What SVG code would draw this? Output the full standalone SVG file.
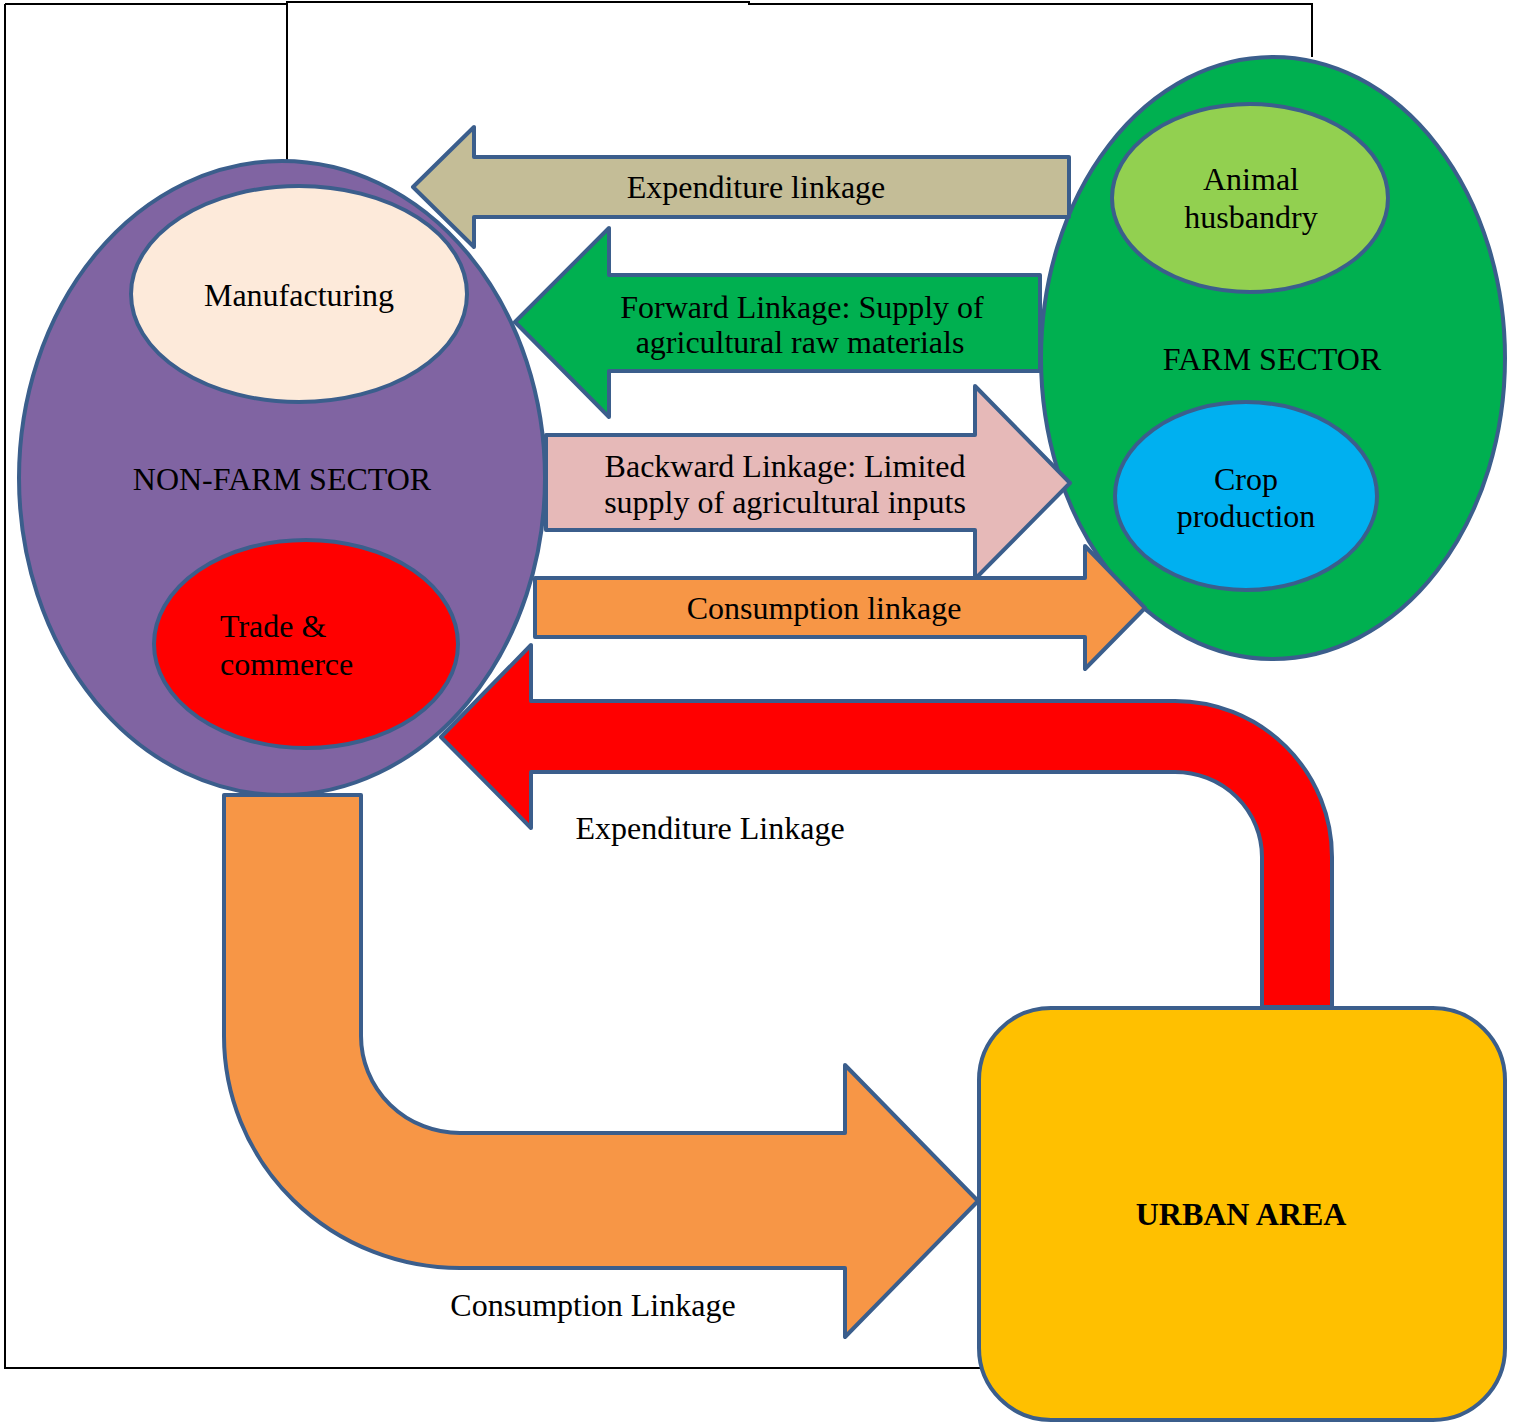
<svg xmlns="http://www.w3.org/2000/svg" width="1515" height="1423" viewBox="0 0 1515 1423">
<style>
.s{stroke:#3B5E8C;stroke-width:4;stroke-linejoin:round}
.t{font-family:"Liberation Serif","Times New Roman",serif;font-size:32px;fill:#000}
.m{text-anchor:middle}
.ln{fill:none;stroke:#000;stroke-width:2}
</style>
<rect width="1515" height="1423" fill="#fff"/>
<g id="frame">
<path class="ln" d="M5,4 V1368 H980"/>
<path class="ln" d="M5,4 H287"/>
<path class="ln" d="M287,161 V2 H749 V4 H1312 V57"/>
</g>
<g id="nonfarm">
<ellipse class="s" cx="282" cy="478" rx="263" ry="317" fill="#8064A2"/>
<text class="t m" x="282" y="490">NON-FARM SECTOR</text>
</g>
<g id="manufacturing">
<ellipse class="s" cx="299" cy="294" rx="168" ry="108" fill="#FDEADA"/>
<text class="t m" x="299" y="306">Manufacturing</text>
</g>
<g id="trade">
<ellipse class="s" cx="306" cy="644" rx="152" ry="104" fill="#FF0000"/>
<text class="t" x="220" y="637">Trade &amp;</text>
<text class="t" x="220" y="675">commerce</text>
</g>
<g id="farm">
<ellipse class="s" cx="1273" cy="358" rx="232" ry="301" fill="#00B050"/>
<text class="t m" x="1272" y="370">FARM SECTOR</text>
</g>
<g id="animal">
<ellipse class="s" cx="1250" cy="198" rx="138" ry="94" fill="#92D050"/>
<text class="t m" x="1251" y="190">Animal</text>
<text class="t m" x="1251" y="228">husbandry</text>
</g>
<g id="crop">
<ellipse class="s" cx="1246" cy="496" rx="131" ry="94" fill="#00B0F0"/>
<text class="t m" x="1246" y="490">Crop</text>
<text class="t m" x="1246" y="527">production</text>
</g>
<g id="urban">
<rect class="s" x="979" y="1008" width="526" height="412" rx="72" ry="72" fill="#FFC000"/>
<text class="t m" x="1241" y="1225" font-weight="bold">URBAN AREA</text>
</g>
<g id="connectors">
<polygon class="s" fill="#C4BD97" points="413,187 474,127 474,157 1069,157 1069,217 474,217 474,247"/>
<text class="t m" x="756" y="198">Expenditure linkage</text>
<polygon class="s" fill="#00B050" points="515,322 609,228 609,275 1040,275 1040,371 609,371 609,417"/>
<text class="t m" x="802" y="318">Forward Linkage: Supply of</text>
<text class="t m" x="800" y="353">agricultural raw materials</text>
<polygon class="s" fill="#E6B9B8" points="546,435 975,435 975,386 1070,483 975,579 975,530 546,530"/>
<text class="t m" x="785" y="477">Backward Linkage: Limited</text>
<text class="t m" x="785" y="513">supply of agricultural inputs</text>
<polygon class="s" fill="#F79646" points="535,578 1085,578 1085,546 1145,608 1085,669 1085,637 535,637"/>
<text class="t m" x="824" y="619">Consumption linkage</text>
<path class="s" fill="#FF0000" d="M441,737 L531,645 L531,701 L1175,701 A157,156 0 0 1 1332,857 L1332,1007 L1262,1007 L1262,857 A87,85 0 0 0 1175,772 L531,772 L531,828 Z"/>
<text class="t m" x="710" y="839">Expenditure Linkage</text>
<path class="s" fill="#F79646" d="M224,795 L361,795 L361,1036 A99,97 0 0 0 460,1133 L845,1133 L845,1065 L978,1201 L845,1337 L845,1268 L460,1268 A236,232 0 0 1 224,1036 Z"/>
<text class="t m" x="593" y="1316">Consumption Linkage</text>
</g>
</svg>
